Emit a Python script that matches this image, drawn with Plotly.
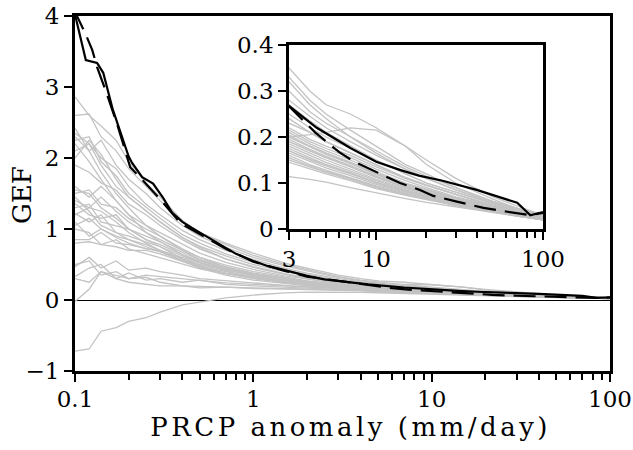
import plotly.graph_objects as go

# ---------------- data ----------------
X_GRAY = [0.1, 0.12, 0.14, 0.17, 0.2, 0.25, 0.3, 0.4, 0.5, 0.7, 1, 1.5, 2, 3, 4, 5, 7, 10, 15, 20, 30, 50, 70, 100]

MODEL_GEF = [
    [2.86, 2.6, 2.45, 2.25, 1.95, 1.65, 1.45, 1.12, 0.95, 0.8, 0.66, 0.52, 0.45, 0.35, 0.30, 0.27, 0.25, 0.22, 0.18, 0.15, 0.11, 0.07, 0.05, 0.03],
    [2.6, 2.62, 2.3, 2.1, 1.85, 1.6, 1.4, 1.1, 0.95, 0.78, 0.63, 0.5, 0.43, 0.33, 0.28, 0.25, 0.215, 0.18, 0.14, 0.12, 0.09, 0.06, 0.045, 0.03],
    [2.42, 2.1, 2.25, 1.9, 1.7, 1.5, 1.3, 1.05, 0.9, 0.74, 0.6, 0.48, 0.41, 0.32, 0.27, 0.24, 0.20, 0.165, 0.13, 0.11, 0.085, 0.058, 0.045, 0.03],
    [2.35, 2.2, 2.0, 1.85, 1.6, 1.35, 1.2, 0.98, 0.85, 0.7, 0.57, 0.45, 0.38, 0.30, 0.255, 0.23, 0.20, 0.17, 0.135, 0.115, 0.09, 0.06, 0.045, 0.03],
    [2.25, 2.3, 1.95, 1.75, 1.5, 1.3, 1.15, 0.92, 0.8, 0.65, 0.53, 0.42, 0.36, 0.28, 0.245, 0.22, 0.19, 0.16, 0.13, 0.11, 0.085, 0.058, 0.042, 0.028],
    [2.0, 2.25, 2.05, 1.7, 1.45, 1.25, 1.1, 0.88, 0.76, 0.62, 0.5, 0.4, 0.34, 0.27, 0.235, 0.21, 0.18, 0.15, 0.12, 0.10, 0.08, 0.055, 0.04, 0.028],
    [1.9, 1.8, 1.65, 1.55, 1.35, 1.2, 1.05, 0.85, 0.72, 0.58, 0.47, 0.37, 0.31, 0.25, 0.22, 0.2, 0.175, 0.15, 0.12, 0.10, 0.08, 0.055, 0.04, 0.027],
    [1.6, 1.45, 1.6, 1.4, 1.2, 1.05, 0.95, 0.78, 0.66, 0.53, 0.43, 0.34, 0.29, 0.23, 0.21, 0.19, 0.165, 0.14, 0.11, 0.095, 0.075, 0.052, 0.04, 0.027],
    [1.5, 1.55, 1.35, 1.3, 1.15, 1.0, 0.9, 0.72, 0.6, 0.46, 0.36, 0.28, 0.24, 0.2, 0.205, 0.21, 0.22, 0.215, 0.18, 0.14, 0.10, 0.065, 0.045, 0.03],
    [1.4, 1.3, 1.45, 1.25, 1.1, 0.95, 0.85, 0.7, 0.6, 0.49, 0.4, 0.32, 0.27, 0.22, 0.195, 0.18, 0.16, 0.135, 0.11, 0.095, 0.075, 0.05, 0.038, 0.026],
    [1.36, 1.2, 1.15, 1.2, 1.0, 0.9, 0.82, 0.67, 0.57, 0.47, 0.38, 0.31, 0.265, 0.215, 0.19, 0.175, 0.155, 0.13, 0.105, 0.09, 0.07, 0.05, 0.037, 0.025],
    [1.3, 1.35, 1.1, 1.05, 1.0, 0.85, 0.78, 0.64, 0.55, 0.45, 0.37, 0.3, 0.26, 0.21, 0.185, 0.17, 0.15, 0.125, 0.10, 0.087, 0.068, 0.048, 0.036, 0.025],
    [1.22, 1.1, 1.2, 0.95, 0.9, 0.82, 0.75, 0.62, 0.53, 0.44, 0.36, 0.29, 0.25, 0.205, 0.18, 0.165, 0.145, 0.12, 0.098, 0.085, 0.066, 0.047, 0.035, 0.024],
    [1.05, 1.15, 1.0, 0.9, 0.85, 0.78, 0.7, 0.58, 0.5, 0.42, 0.35, 0.28, 0.245, 0.2, 0.178, 0.162, 0.142, 0.118, 0.095, 0.082, 0.064, 0.046, 0.034, 0.024],
    [0.85, 0.85, 0.95, 0.8, 0.78, 0.72, 0.68, 0.56, 0.48, 0.4, 0.33, 0.27, 0.235, 0.195, 0.173, 0.158, 0.138, 0.115, 0.093, 0.08, 0.062, 0.045, 0.033, 0.023],
    [0.8, 0.82, 0.78, 0.75, 0.7, 0.7, 0.65, 0.54, 0.46, 0.38, 0.32, 0.26, 0.228, 0.19, 0.17, 0.155, 0.135, 0.112, 0.09, 0.078, 0.06, 0.044, 0.033, 0.023],
    [1.45, 1.25, 1.05, 0.95, 0.85, 0.75, 0.68, 0.55, 0.47, 0.38, 0.31, 0.25, 0.22, 0.185, 0.165, 0.15, 0.13, 0.108, 0.088, 0.076, 0.06, 0.043, 0.032, 0.022],
    [2.3, 2.1, 1.8, 1.5, 1.3, 1.05, 0.9, 0.7, 0.57, 0.44, 0.34, 0.26, 0.22, 0.18, 0.16, 0.145, 0.126, 0.105, 0.085, 0.074, 0.058, 0.042, 0.031, 0.022],
    [2.2, 1.95, 1.7, 1.4, 1.2, 0.95, 0.82, 0.64, 0.53, 0.41, 0.32, 0.25, 0.21, 0.175, 0.155, 0.14, 0.122, 0.102, 0.083, 0.072, 0.057, 0.041, 0.03, 0.021],
    [1.55, 1.5, 1.3, 1.15, 1.0, 0.85, 0.75, 0.58, 0.48, 0.37, 0.3, 0.24, 0.205, 0.17, 0.15, 0.137, 0.12, 0.1, 0.082, 0.07, 0.056, 0.04, 0.03, 0.021],
    [1.2, 1.3, 1.25, 1.1, 0.95, 0.8, 0.7, 0.55, 0.45, 0.35, 0.28, 0.23, 0.2, 0.165, 0.146, 0.133, 0.116, 0.097, 0.08, 0.069, 0.055, 0.04, 0.03, 0.021],
    [0.47, 0.6, 0.45, 0.55, 0.42, 0.45, 0.4, 0.35, 0.3, 0.27, 0.24, 0.2, 0.18, 0.16, 0.14, 0.128, 0.112, 0.094, 0.078, 0.067, 0.054, 0.039, 0.029, 0.02],
    [0.33, 0.45, 0.5, 0.3, 0.38, 0.28, 0.3, 0.25, 0.28, 0.22, 0.2, 0.18, 0.17, 0.155, 0.137, 0.125, 0.11, 0.092, 0.076, 0.066, 0.053, 0.038, 0.028, 0.02],
    [-0.02, 0.15, 0.4, 0.3, 0.25, 0.22, 0.2, 0.2, 0.19, 0.18, 0.17, 0.16, 0.155, 0.15, 0.135, 0.123, 0.108, 0.09, 0.075, 0.065, 0.052, 0.038, 0.028, 0.02],
    [0.3, 0.25, 0.4, 0.35, 0.3, 0.32, 0.25, 0.2, 0.17, 0.18, 0.16, 0.155, 0.15, 0.145, 0.13, 0.12, 0.105, 0.088, 0.073, 0.064, 0.051, 0.037, 0.028, 0.02],
    [-0.72, -0.69, -0.44, -0.39, -0.3, -0.25, -0.17, -0.07, -0.03, 0.03, 0.07, 0.1, 0.11, 0.114, 0.108, 0.102, 0.09, 0.078, 0.066, 0.058, 0.048, 0.035, 0.028, 0.02],
    [1.1, 0.9, 1.0, 0.88, 0.8, 0.72, 0.7, 0.6, 0.52, 0.43, 0.36, 0.29, 0.25, 0.2, 0.18, 0.165, 0.145, 0.122, 0.098, 0.085, 0.066, 0.047, 0.035, 0.024],
    [2.1, 2.2, 1.9, 1.6, 1.45, 1.25, 1.1, 0.88, 0.74, 0.58, 0.46, 0.36, 0.3, 0.24, 0.21, 0.19, 0.165, 0.14, 0.112, 0.096, 0.076, 0.052, 0.039, 0.026],
    [1.0, 0.95, 0.78, 0.85, 0.72, 0.65, 0.6, 0.5, 0.44, 0.37, 0.31, 0.25, 0.225, 0.19, 0.17, 0.155, 0.136, 0.113, 0.091, 0.079, 0.061, 0.044, 0.033, 0.023],
    [0.5, 0.55, 0.35, 0.4, 0.3, 0.35, 0.33, 0.3, 0.27, 0.24, 0.22, 0.2, 0.19, 0.17, 0.152, 0.14, 0.122, 0.1, 0.082, 0.07, 0.056, 0.04, 0.03, 0.021],
]

X_OBS = [0.1, 0.115, 0.133, 0.144, 0.163, 0.186, 0.2, 0.209, 0.238, 0.274, 0.31, 0.35, 0.4, 0.45, 0.5, 0.6, 0.7, 0.8, 1, 1.2,
         1.5, 2, 2.5, 3, 4.4, 7, 10, 14, 18, 25, 40, 70, 84, 100]
Y_OBS = [4.02, 3.38, 3.34, 3.2, 2.68, 2.25, 2.02, 1.93, 1.73, 1.64, 1.45, 1.23, 1.1, 1.02, 0.95, 0.83, 0.73, 0.65, 0.55, 0.48,
         0.42, 0.34, 0.29, 0.267, 0.22, 0.176, 0.146, 0.128, 0.116, 0.105, 0.085, 0.057, 0.030, 0.037]

X_DASH = [0.1, 0.103, 0.114, 0.125, 0.133, 0.151, 0.174, 0.204, 0.241, 0.3, 0.365, 0.39, 0.5, 0.7, 1, 1.5, 2, 3, 3.5, 4.3,
          6, 7.4, 11, 13.9, 18.3, 22, 30, 44, 60, 84, 100]
Y_DASH = [4.1, 3.99, 3.76, 3.52, 3.28, 2.9, 2.44, 1.87, 1.68, 1.42, 1.17, 1.08, 0.93, 0.72, 0.54, 0.41, 0.33, 0.267, 0.242, 0.21,
          0.167, 0.146, 0.117, 0.10, 0.085, 0.072, 0.06, 0.046, 0.038, 0.030, 0.035]

MAIN_XTICKS = [0.1, 1, 10, 100]
MAIN_XLABELS = ["0.1", "1", "10", "100"]
MAIN_YTICKS = [-1, 0, 1, 2, 3, 4]
INSET_XTICKS = [3, 10, 100]
INSET_XLABELS = ["3", "10", "100"]
INSET_YTICKS = [0, 0.1, 0.2, 0.3, 0.4]
INSET_YLABELS = ["0", "0.1", "0.2", "0.3", "0.4"]

MAIN_XMINOR = [m * d for d in (0.1, 1, 10) for m in range(2, 10)]
INSET_XMINOR = [4, 5, 6, 7, 8, 9, 20, 30, 40, 50, 60, 70, 80, 90]

# ---------------- figure ----------------
GRAY = "#c3c3c3"
FONT = "DejaVu Serif"
fig = go.Figure()

for axes in (("x", "y"), ("x2", "y2")):
    for ys in MODEL_GEF:
        fig.add_trace(go.Scatter(x=X_GRAY, y=ys, mode="lines", xaxis=axes[0], yaxis=axes[1],
                                 line=dict(color=GRAY, width=1.3), showlegend=False, hoverinfo="skip"))
    fig.add_trace(go.Scatter(x=X_DASH, y=Y_DASH, mode="lines", xaxis=axes[0], yaxis=axes[1],
                             line=dict(color="black", width=2.2, dash="22px,9px"), showlegend=False))
    fig.add_trace(go.Scatter(x=X_OBS, y=Y_OBS, mode="lines", xaxis=axes[0], yaxis=axes[1],
                             line=dict(color="black", width=2.2), showlegend=False))

axis_common = dict(showline=True, linecolor="black", mirror=True, ticks="outside",
                   tickcolor="black", tickwidth=2, showgrid=False, automargin=False,
                   tickfont=dict(family=FONT, size=23, color="black"))

fig.update_layout(
    width=633, height=450,
    margin=dict(l=0, r=0, t=0, b=0),
    paper_bgcolor="white", plot_bgcolor="white",
    xaxis=dict(type="log", range=[-1, 2], domain=[75 / 633, 610 / 633], anchor="y",
               tickvals=MAIN_XTICKS, ticktext=MAIN_XLABELS, ticklen=8, linewidth=3,
               ticklabelstandoff=-3,
               minor=dict(tickvals=MAIN_XMINOR, ticks="outside", ticklen=6, tickwidth=2, tickcolor="black"),
               zeroline=False, **axis_common),
    yaxis=dict(range=[-1, 4], domain=[(450 - 371) / 450, (450 - 16) / 450], anchor="x",
               tickvals=MAIN_YTICKS, ticklen=8, linewidth=3,
               zeroline=True, zerolinecolor="black", zerolinewidth=1, **axis_common),
    xaxis2=dict(type="log", range=[0.4771, 2], domain=[289 / 633, 543 / 633], anchor="y2",
                tickvals=INSET_XTICKS, ticktext=INSET_XLABELS, ticklen=8, linewidth=2.7,
                minor=dict(tickvals=INSET_XMINOR, ticks="outside", ticklen=6, tickwidth=2, tickcolor="black"),
                zeroline=False, **axis_common),
    yaxis2=dict(range=[0, 0.4], domain=[(450 - 229) / 450, (450 - 45) / 450], anchor="x2",
                tickvals=INSET_YTICKS, ticktext=INSET_YLABELS, ticklen=8, linewidth=2.7,
                zeroline=False, **axis_common),
    annotations=[
        dict(text="GEF", x=22 / 633, y=(450 - 195) / 450, xref="paper", yref="paper", showarrow=False,
             xanchor="center", yanchor="middle",
             textangle=-90, font=dict(family=FONT, size=26, color="black")),
        dict(text="PRCP anomaly (mm/day)", x=350 / 633, y=(450 - 427) / 450, xref="paper", yref="paper",
             xanchor="center", yanchor="middle",
             showarrow=False, font=dict(family=FONT, size=26, color="black")),
    ],
)

SPACING_JS = """
document.querySelectorAll('.annotation-text').forEach(function (t) {
  if (t.textContent.indexOf('PRCP') === 0) { t.style.letterSpacing = '3.5px'; }
});
"""

fig.write_html("out.html", post_script=SPACING_JS)
